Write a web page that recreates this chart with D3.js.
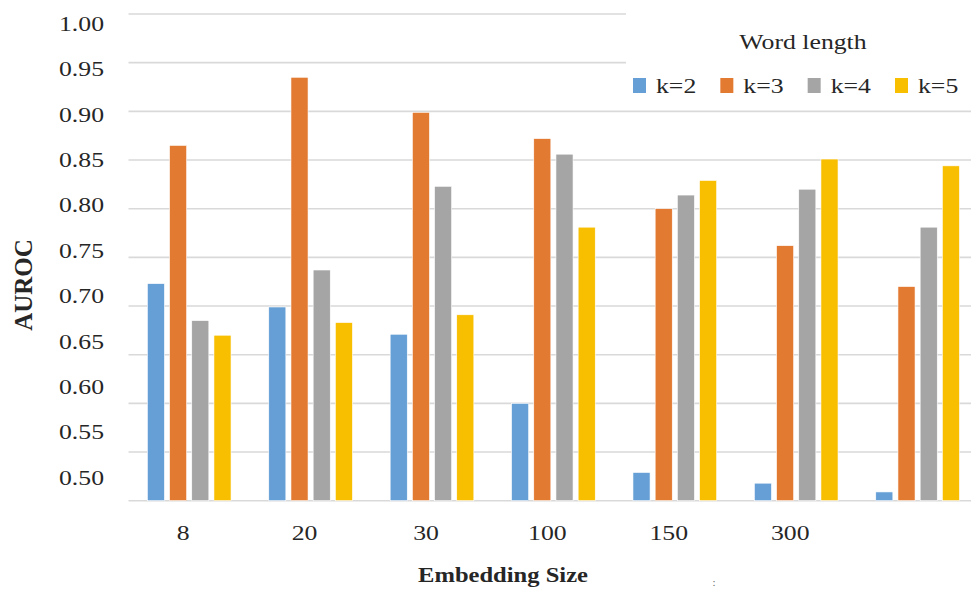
<!DOCTYPE html>
<html>
<head>
    <title>AUROC by Embedding Size</title>
    <script src="https://cdn.jsdelivr.net/npm/d3@7"></script>
    <style>
        body { margin: 0; background: #fff; }
        text { font-family: "Liberation Serif", "Times New Roman", serif; fill: #262626; }
    </style>
</head>
<body>
<script>
    // values
    var sizes = ["8", "20", "30", "100", "150", "300", ""];
    var series = ["k=2", "k=3", "k=4", "k=5"];
    var k2 = [0.723, 0.699, 0.671, 0.600, 0.529, 0.518, 0.509];
    var k3 = [0.865, 0.935, 0.899, 0.872, 0.800, 0.762, 0.720];
    var k4 = [0.685, 0.737, 0.823, 0.856, 0.814, 0.820, 0.781];
    var k5 = [0.670, 0.683, 0.691, 0.781, 0.829, 0.851, 0.844];
    var yTicks = [0.50, 0.55, 0.60, 0.65, 0.70, 0.75, 0.80, 0.85, 0.90, 0.95, 1.00];
    var colors = ["#659fd6", "#e37a31", "#a5a5a5", "#f8be00"];

    var width = 971;
    var height = 590;
    var stretch = 1.17;   // the picture is a bit wider than tall, text too

    var values = [k2, k3, k4, k5];
    var rows = sizes.map(function(s, i) {
        return { size: s, vals: series.map(function(k, j) { return { key: k, v: values[j][i] }; }) };
    });

    var svg = d3.select("body").append("svg")
        .attr("width", width)
        .attr("height", height);

    var x = d3.scaleBand().domain(d3.range(sizes.length)).range([128.5, 978.3]);
    var xIn = d3.scaleBand().domain(series).range([0, x.bandwidth()])
        .paddingInner(0.23).paddingOuter(0.85);
    var y = d3.scaleLinear().domain([0.5, 1.0]).range([500.7, 14]);
    // tick labels sit on their own spacing in the original
    var yLab = d3.scaleLinear().domain([0.5, 1.0]).range([477, 23]);

    function place(sel, px, py) {
        sel.attr("transform", function(d, i) {
            return "translate(" + px(d, i) + "," + py(d, i) + ") scale(" + stretch + ",1)";
        });
    }

    // gridlines
    svg.append("g").selectAll("line")
        .data(yTicks)
        .enter().append("line")
        .attr("x1", 128.5).attr("x2", width)
        .attr("y1", function(d) { return y(d); })
        .attr("y2", function(d) { return y(d); })
        .attr("stroke", "#d9d9d9")
        .attr("stroke-width", 1.6);

    // bars
    var groups = svg.append("g").selectAll("g")
        .data(rows)
        .enter().append("g")
        .attr("transform", function(d, i) { return "translate(" + x(i) + ",0)"; });
    groups.selectAll("rect")
        .data(function(d) { return d.vals; })
        .enter().append("rect")
        .attr("x", function(d) { return xIn(d.key); })
        .attr("width", xIn.bandwidth())
        .attr("y", function(d) { return y(d.v); })
        .attr("height", function(d) { return y(0.5) - y(d.v); })
        .attr("fill", function(d, j) { return colors[j]; })
        .attr("stroke", "#fff")
        .attr("stroke-width", 0.6);

    // y tick labels
    svg.append("g").selectAll("text")
        .data(yTicks)
        .enter().append("text")
        .text(function(d) { return d.toFixed(2); })
        .attr("text-anchor", "end")
        .attr("dy", "0.35em")
        .style("font-size", "22px")
        .call(place, function() { return 104; }, function(d) { return yLab(d); });

    // x tick labels
    svg.append("g").selectAll("text")
        .data(sizes)
        .enter().append("text")
        .text(function(d) { return d; })
        .attr("text-anchor", "middle")
        .style("font-size", "22px")
        .call(place, function(d, i) { return x(i) + x.bandwidth() / 2 - 6; }, function() { return 540; });

    // axis titles
    svg.append("text")
        .text("AUROC")
        .attr("text-anchor", "middle")
        .attr("transform", "translate(32,285) rotate(-90)")
        .style("font-size", "25px")
        .style("font-weight", "bold");
    svg.append("text")
        .datum(0)
        .text("Embedding Size")
        .attr("text-anchor", "middle")
        .style("font-size", "21px")
        .style("font-weight", "bold")
        .call(place, function() { return 503; }, function() { return 582; });
    svg.append("text")
        .datum(0)
        .text(":")
        .attr("text-anchor", "middle")
        .style("font-size", "11px")
        .style("fill", "#777")
        .call(place, function() { return 714; }, function() { return 586; });

    // legend
    var legend = svg.append("g");
    legend.append("rect")
        .attr("x", 626).attr("y", 0)
        .attr("width", width - 626).attr("height", 104)
        .attr("fill", "#fff");
    legend.append("text")
        .datum(0)
        .text("Word length")
        .attr("text-anchor", "middle")
        .style("font-size", "22px")
        .call(place, function() { return 803; }, function() { return 49; });
    var lx = d3.scalePoint().domain(series).range([656, 918]);
    var items = legend.selectAll("g.item")
        .data(series)
        .enter().append("g")
        .attr("class", "item");
    items.append("rect")
        .attr("x", function(d) { return lx(d) - 23; })
        .attr("y", 78)
        .attr("width", 13)
        .attr("height", 15)
        .attr("fill", function(d, i) { return colors[i]; });
    items.append("text")
        .text(function(d) { return d; })
        .style("font-size", "22px")
        .call(place, function(d) { return lx(d); }, function() { return 93; });
</script>
</body>
</html>
